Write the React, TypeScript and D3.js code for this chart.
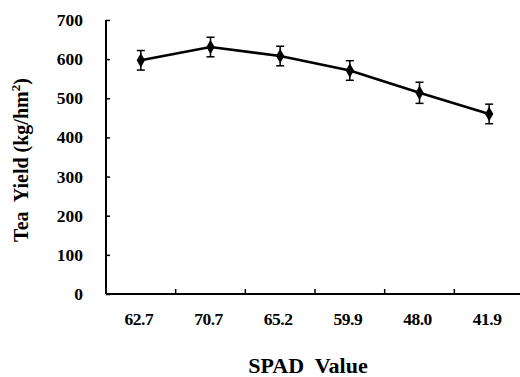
import React, { useRef, useEffect } from "react";
import * as d3 from "d3";

const categories = ["62.7", "70.7", "65.2", "59.9", "48.0", "41.9"];
const yieldMean = [597, 631, 608, 571, 514, 460];
const yieldErr = [25, 25, 25, 25, 27, 25];
const yTicks = [0, 100, 200, 300, 400, 500, 600, 700];

const App = () => {
  const svgRef = useRef<SVGSVGElement>(null);

  useEffect(() => {
    const svg = d3.select(svgRef.current);
    svg.selectAll("*").remove();
    const font = "'Liberation Serif', 'Times New Roman', serif";

    const x = d3.scaleBand().domain(categories).range([106, 524]);
    const y = d3.scaleLinear().domain([0, 700]).range([294, 20]);

    // axes
    const yAxis = svg.append("g").attr("transform", "translate(106,0)")
      .call(d3.axisRight(y).tickValues(yTicks).tickSize(4).tickFormat(() => ""));
    yAxis.select(".domain").attr("stroke-width", 2).attr("d", "M0,20V294");
    yAxis.selectAll(".tick line").attr("stroke-width", 1.5);

    const xAxis = svg.append("g").attr("transform", "translate(0,294)")
      .call(d3.axisTop(x).tickSize(0).tickFormat(() => ""));
    xAxis.select(".domain").attr("stroke-width", 2).attr("d", "M106,0H524");
    xAxis.selectAll(".tick").remove();
    categories.slice(1).forEach((c) => {
      svg.append("line")
        .attr("x1", x(c)!).attr("x2", x(c)!)
        .attr("y1", 294).attr("y2", 289)
        .attr("stroke", "#000").attr("stroke-width", 1.5);
    });

    // y tick labels
    svg.append("g").selectAll("text").data(yTicks).enter().append("text")
      .attr("x", 83).attr("y", (d) => y(d) + 6)
      .attr("text-anchor", "end").attr("fill", "#000")
      .attr("font-family", font).attr("font-weight", "bold").attr("font-size", 17.5)
      .text((d) => d);

    // x tick labels
    svg.append("g").selectAll("text").data(categories).enter().append("text")
      .attr("x", (d) => x(d)! + x.bandwidth() / 2 - 2).attr("y", 325)
      .attr("text-anchor", "middle").attr("fill", "#000")
      .attr("font-family", font).attr("font-weight", "bold").attr("font-size", 17.5)
      .attr("letter-spacing", -0.5)
      .text((d) => d);

    // axis titles
    svg.append("text")
      .attr("x", 308).attr("y", 373)
      .attr("text-anchor", "middle").attr("fill", "#000")
      .attr("font-family", font).attr("font-weight", "bold").attr("font-size", 22)
      .attr("xml:space", "preserve")
      .text("SPAD  Value");

    const yt = svg.append("text")
      .attr("transform", "translate(28,160) rotate(-90)")
      .attr("text-anchor", "middle").attr("fill", "#000")
      .attr("font-family", font).attr("font-weight", "bold").attr("font-size", 20)
      .attr("xml:space", "preserve");
    yt.append("tspan").text("Tea  Yield (kg/hm");
    yt.append("tspan").attr("dy", -8).attr("font-size", 13).text("2");
    yt.append("tspan").attr("dy", 8).text(")");

    const cx = (i: number) => x(categories[i])! + x.bandwidth() / 2;

    // line
    const line = d3.line<number>().x((_, i) => cx(i)).y((d) => y(d));
    svg.append("path").datum(yieldMean)
      .attr("d", line).attr("fill", "none")
      .attr("stroke", "#000").attr("stroke-width", 2.6);

    // error bars
    const eb = svg.append("g").attr("stroke", "#000").attr("stroke-width", 1.5);
    yieldMean.forEach((m, i) => {
      const top = y(m + yieldErr[i]);
      const bot = y(m - yieldErr[i]);
      eb.append("line").attr("x1", cx(i)).attr("x2", cx(i)).attr("y1", top).attr("y2", bot);
      eb.append("line").attr("x1", cx(i) - 4).attr("x2", cx(i) + 4).attr("y1", top).attr("y2", top);
      eb.append("line").attr("x1", cx(i) - 4).attr("x2", cx(i) + 4).attr("y1", bot).attr("y2", bot);
    });

    // markers
    svg.append("g").selectAll("path").data(yieldMean).enter().append("path")
      .attr("d", d3.symbol().type(d3.symbolDiamond).size(60))
      .attr("transform", (d, i) => `translate(${cx(i)},${y(d)})`)
      .attr("fill", "#000");
  }, []);

  return (
    <svg
      ref={svgRef}
      width={520}
      height={377}
      style={{ position: "absolute", left: 0, top: 0, background: "#fff" }}
    />
  );
};

export default App;
